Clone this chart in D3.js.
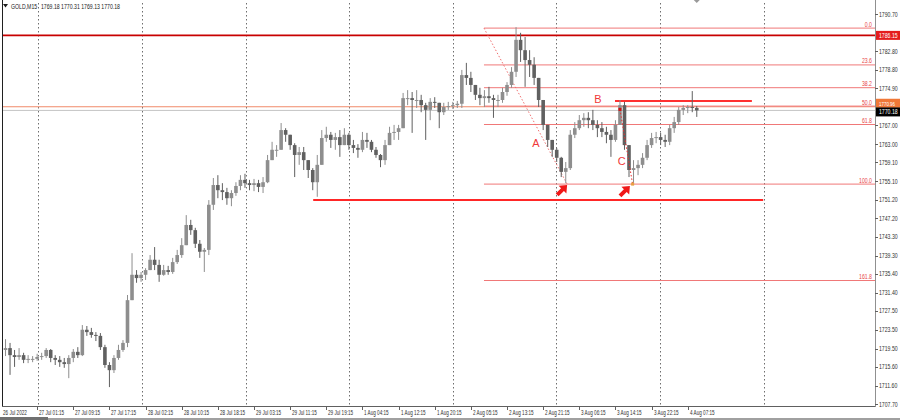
<!DOCTYPE html>
<html><head><meta charset="utf-8">
<script src="https://cdn.jsdelivr.net/npm/d3@7"></script>
<style>body{margin:0;background:#fff}svg{display:block}</style>
</head><body>
<script>
// ---------------- DATA ----------------
const symbolTitle = "GOLD,M15";
const lastQuote = "1769.18 1770.31 1769.13 1770.18";
const firstOpen = 1718.8;
const highs = [
1720.3,1721.5,1720.7,1719.2,1719.6,1718.6,1718.1,1717.9,1718.4,1718.6,
1719.6,1719.4,1718.1,1717.9,1717.5,1718.1,1719.4,1719.8,1724.5,1724.3,
1723.9,1723.0,1722.8,1720.3,1716.6,1718.1,1720.3,1721.3,1730.9,1739.8,
1736.2,1735.8,1736.6,1739.4,1741.1,1738.4,1737.3,1737.1,1738.8,1740.5,
1743.0,1747.9,1746.9,1745.2,1742.6,1740.9,1751.1,1755.8,1756.4,1754.7,
1753.7,1753.2,1754.9,1756.4,1756.7,1755.4,1755.6,1755.4,1756.0,1760.7,
1763.5,1762.8,1767.5,1766.4,1765.0,1763.2,1762.4,1762.4,1759.6,1757.9,
1760.7,1766.0,1766.7,1765.6,1765.4,1766.0,1766.4,1765.4,1763.9,1763.0,
1765.6,1765.4,1763.9,1762.4,1760.9,1763.9,1766.7,1767.1,1767.1,1773.9,
1774.5,1774.1,1774.5,1773.5,1771.8,1772.8,1773.0,1771.3,1771.8,1772.0,
1772.0,1772.2,1778.8,1780.3,1778.4,1775.6,1775.0,1774.5,1775.2,1773.5,
1773.5,1775.0,1776.2,1779.4,1787.9,1786.7,1785.8,1783.0,1781.5,1777.1,
1772.4,1767.1,1763.9,1762.2,1760.3,1759.2,1766.0,1767.7,1769.2,1769.6,
1769.8,1770.3,1768.1,1767.7,1766.7,1766.0,1768.1,1772.4,1772.0,1762.8,
1759.6,1759.6,1761.1,1763.9,1765.4,1765.6,1765.4,1765.0,1767.1,1768.8,
1770.9,1771.3,1771.3,1774.3,1771.1];
const lows = [
1717.5,1717.9,1713.9,1715.6,1717.1,1716.4,1716.4,1716.6,1716.9,1717.1,
1717.5,1716.6,1716.0,1715.6,1715.4,1713.2,1716.6,1717.5,1717.9,1722.2,
1721.8,1721.1,1719.2,1715.4,1711.3,1714.3,1717.1,1718.8,1719.8,1730.0,
1733.5,1733.7,1734.1,1736.6,1736.2,1733.7,1735.0,1735.2,1735.4,1737.5,
1738.8,1741.5,1743.7,1740.9,1738.8,1735.8,1739.4,1749.0,1751.5,1751.1,
1750.1,1749.8,1752.0,1753.2,1753.7,1753.2,1753.0,1752.8,1752.6,1754.7,
1759.6,1760.3,1761.8,1763.5,1761.8,1756.0,1758.6,1757.5,1755.8,1753.2,
1751.8,1758.6,1763.5,1762.2,1761.8,1760.3,1762.8,1761.8,1761.1,1760.1,
1761.3,1762.2,1761.3,1760.1,1758.1,1758.6,1762.8,1763.9,1763.9,1766.4,
1771.3,1765.4,1770.7,1769.8,1763.9,1768.1,1770.7,1766.4,1769.2,1770.3,
1770.5,1770.7,1770.7,1775.6,1774.1,1772.4,1771.3,1770.9,1771.8,1768.6,
1770.9,1771.8,1773.3,1775.0,1777.3,1780.5,1775.2,1777.3,1775.6,1770.9,
1766.0,1762.4,1760.3,1759.2,1756.0,1754.7,1757.5,1764.3,1766.0,1766.7,
1766.4,1766.0,1764.5,1764.5,1763.2,1760.3,1763.5,1767.1,1761.8,1756.0,
1754.3,1756.4,1757.9,1759.6,1762.2,1763.2,1762.8,1762.4,1762.8,1765.4,
1767.1,1769.2,1769.6,1769.8,1768.8];
const closes = [
1719.2,1719.6,1718.1,1717.7,1718.1,1717.1,1717.3,1717.3,1717.7,1717.9,
1719.2,1717.5,1717.1,1716.6,1716.2,1717.5,1718.8,1718.1,1723.5,1723.0,
1722.4,1722.2,1719.8,1716.0,1714.9,1717.5,1719.2,1720.7,1729.8,1735.2,
1734.5,1735.2,1736.2,1738.4,1737.3,1735.2,1736.2,1735.8,1737.9,1739.4,
1741.5,1745.8,1744.7,1741.8,1740.1,1740.5,1750.1,1754.3,1753.2,1752.8,
1751.5,1752.6,1754.1,1755.4,1754.7,1754.3,1754.7,1753.9,1754.9,1759.6,
1761.8,1761.8,1766.0,1765.0,1762.8,1760.7,1761.3,1759.6,1757.5,1754.9,
1758.6,1764.3,1765.0,1763.9,1764.5,1762.8,1765.0,1762.8,1762.2,1761.8,
1763.9,1763.5,1761.8,1760.7,1759.6,1762.8,1765.4,1765.6,1766.4,1772.8,
1772.8,1772.4,1772.4,1771.3,1770.3,1772.0,1771.8,1769.8,1770.9,1771.1,
1771.3,1771.6,1777.7,1777.1,1775.6,1773.5,1772.8,1773.2,1772.8,1772.4,
1772.4,1774.1,1775.6,1778.4,1785.2,1783.0,1780.9,1779.9,1777.1,1772.4,
1767.1,1763.9,1761.8,1760.1,1757.1,1757.9,1765.0,1766.4,1768.1,1768.6,
1768.1,1767.1,1766.4,1765.6,1765.0,1763.9,1767.1,1771.3,1762.8,1757.5,
1757.9,1758.6,1760.1,1762.8,1764.3,1764.5,1763.9,1763.5,1766.4,1767.7,
1770.3,1770.7,1770.9,1770.7,1770.18];
const timeLabels = ["26 Jul 2022","27 Jul 01:15","27 Jul 09:15","27 Jul 17:15","28 Jul 02:15",
"28 Jul 10:15","28 Jul 18:15","29 Jul 03:15","29 Jul 11:15","29 Jul 19:15","1 Aug 04:15",
"1 Aug 12:15","1 Aug 20:15","2 Aug 05:15","2 Aug 13:15","2 Aug 21:15","3 Aug 06:15",
"3 Aug 14:15","3 Aug 22:15","4 Aug 07:15"];
const barsPerLabel = 8;
const priceTicks = [1790.70,1782.80,1778.80,1774.90,1767.00,1763.00,1759.10,1755.10,1751.20,
1747.20,1743.30,1739.30,1735.40,1731.40,1727.50,1723.50,1719.50,1715.60,1711.60,1707.70];
const gridBars = [8.25,31.15,54.2,77.1,100,122.95,145.9,168.8];
const fibLevels = [0,23.6,38.2,50,61.8,100,161.8];
const fibHigh = 1787.7, fibLow = 1754.5, fibStartBar = 106.9, fibEndBar = 125.3;
const resistancePrice = 1786.15;
const bidPrice = 1770.18;
const alertPrice = 1770.96;
const bLine = {price:1772.2, from:135.9, to:166.2};
const supportLine = {price:1751.1, from:69.1, to:168.7};
const bcLine = [{bar:137.0, price:1770.4},{bar:139.8, price:1754.5}];
const waveLabels = [{t:"A",bar:118.4,price:1763.25},{t:"B",bar:132.1,price:1772.6},{t:"C",bar:137.4,price:1759.4}];
const arrowTips = [{bar:125.3,price:1754.3},{bar:139.2,price:1754.1}];

// ---------------- LAYOUT ----------------
const W=900,H=420, L=2, R=875, T=3, B=406, px=4.518;
const svg=d3.select("body").append("svg").attr("width",W).attr("height",H)
  .style("font-family","'Liberation Sans',Arial,sans-serif");
const x=d3.scaleLinear().domain([0,(R-1)/px]).range([1,R]);
const y=d3.scaleLinear().domain([1707.70,1790.70]).range([404,14]);

svg.append("defs").append("clipPath").attr("id","pc").append("rect")
  .attr("x",L).attr("y",T).attr("width",R-L).attr("height",B-T);
const g=svg.append("g").attr("clip-path","url(#pc)");

function sText(parent,tx,ty,str,sx,size,fill,anchor){
  return parent.append("text").attr("transform",`translate(${tx},${ty}) scale(${sx},1)`)
    .attr("font-size",size).attr("fill",fill).attr("text-anchor",anchor||"start").text(str);
}

// grid
g.selectAll(".vg").data(gridBars).join("line").attr("x1",d=>Math.round(x(d))+0.5).attr("x2",d=>Math.round(x(d))+0.5)
  .attr("y1",T).attr("y2",B).attr("stroke","#6e6e6e").attr("stroke-width",1).attr("stroke-dasharray","1.5,2.5");

// full-width horizontal lines
g.append("line").attr("x1",L).attr("x2",R).attr("y1",y(bidPrice)).attr("y2",y(bidPrice))
  .attr("stroke","#c4c4c4").attr("stroke-width",1);
g.append("line").attr("x1",L).attr("x2",R).attr("y1",y(alertPrice)).attr("y2",y(alertPrice))
  .attr("stroke","#f08a6a").attr("stroke-width",1);
g.append("line").attr("x1",L).attr("x2",R).attr("y1",y(resistancePrice)).attr("y2",y(resistancePrice))
  .attr("stroke","#c80000").attr("stroke-width",1.6);

// fib
const fibPrice=l=>fibHigh-(fibHigh-fibLow)*l/100;
g.selectAll(".fib").data(fibLevels).join("line").attr("x1",x(fibStartBar)).attr("x2",R)
  .attr("y1",d=>y(fibPrice(d))).attr("y2",d=>y(fibPrice(d))).attr("stroke","#f07878").attr("stroke-width",1);
g.append("line").attr("x1",x(fibStartBar)).attr("y1",y(fibHigh)).attr("x2",x(fibEndBar)).attr("y2",y(fibLow))
  .attr("stroke","#f07070").attr("stroke-width",1).attr("stroke-dasharray","1.5,2");
fibLevels.forEach(l=>{
  sText(svg,872,y(fibPrice(l))-1.5,l.toFixed(1),0.8,6.5,"#e84848","end");
});

// support & B lines
g.append("line").attr("x1",x(supportLine.from)).attr("x2",x(supportLine.to))
  .attr("y1",y(supportLine.price)).attr("y2",y(supportLine.price)).attr("stroke","#ff2626").attr("stroke-width",2);
g.append("line").attr("x1",x(bLine.from)).attr("x2",x(bLine.to))
  .attr("y1",y(bLine.price)).attr("y2",y(bLine.price)).attr("stroke","#ff3030").attr("stroke-width",2);

// candles
const bars=highs.map((h,i)=>{
  const o=i===0?firstOpen:closes[i-1], c=closes[i];
  return {i,o,c,h:Math.max(h,o,c),l:Math.min(lows[i],o,c)};
});
const col=d=>d.c>=d.o?"#8e8e8e":"#606060";
const cg=g.append("g");
cg.selectAll(".w").data(bars).join("rect").attr("x",d=>x(d.i)-0.5).attr("width",1)
  .attr("y",d=>y(d.h)).attr("height",d=>Math.max(1,y(d.l)-y(d.h))).attr("fill",col);
cg.selectAll(".b").data(bars).join("rect").attr("x",d=>x(d.i)-1.8).attr("width",3.6)
  .attr("y",d=>y(Math.max(d.o,d.c))).attr("height",d=>Math.max(1,Math.abs(y(d.o)-y(d.c))))
  .attr("fill",col);

// B-C dotted line and markers
g.append("line").attr("x1",x(bcLine[0].bar)).attr("y1",y(bcLine[0].price)).attr("x2",x(bcLine[1].bar)).attr("y2",y(bcLine[1].price))
  .attr("stroke","#e83030").attr("stroke-width",1).attr("stroke-dasharray","1.5,2");
g.append("rect").attr("x",x(bcLine[0].bar)-1.5).attr("y",y(bcLine[0].price)-1.5).attr("width",3).attr("height",3).attr("fill","#d01010");
g.append("rect").attr("x",x(bcLine[1].bar)-1.5).attr("y",y(bcLine[1].price)-1.5).attr("width",3).attr("height",3).attr("fill","#e8a040");

// wave labels
waveLabels.forEach(d=>{
  g.append("text").attr("x",x(d.bar)).attr("y",y(d.price)).attr("dy","0.35em").attr("text-anchor","middle")
    .attr("font-size",11).attr("fill","#f03838").text(d.t);
});
// arrows
arrowTips.forEach(d=>{
  g.append("path").attr("d","M0,0 L-5.5,6.5 L-2,6.5 L-2,14 L2,14 L2,6.5 L5.5,6.5 Z")
    .attr("transform",`translate(${x(d.bar)},${y(d.price)}) rotate(45)`).attr("fill","#f01818");
});

// frame
svg.append("line").attr("x1",L+0.5).attr("x2",L+0.5).attr("y1",0).attr("y2",B).attr("stroke","#202020");
svg.append("line").attr("x1",L).attr("x2",R).attr("y1",B+0.5).attr("y2",B+0.5).attr("stroke","#606060");
svg.append("line").attr("x1",R+0.5).attr("x2",R+0.5).attr("y1",0).attr("y2",B+1).attr("stroke","#909090");
svg.append("rect").attr("x",0).attr("y",418).attr("width",W).attr("height",2).attr("fill","#a0a0a0");
svg.append("rect").attr("x",0).attr("y",417).attr("width",48).attr("height",3).attr("fill","#707070");
// chart shift marker
svg.append("path").attr("d",`M${x(154)-3},0 L${x(154)+3},0 L${x(154)},3 Z`).attr("fill","#9a9a9a");

// right axis
priceTicks.forEach(p=>{
  svg.append("line").attr("x1",R).attr("x2",R+3).attr("y1",Math.round(y(p))+0.5).attr("y2",Math.round(y(p))+0.5).attr("stroke","#606060");
  sText(svg,879,y(p)+2.5,p.toFixed(2),0.74,7,"#303030");
});
function priceTag(p,bg,ty,sz){
  svg.append("rect").attr("x",R+1).attr("y",ty-4.5).attr("width",24).attr("height",9).attr("fill",bg);
  sText(svg,879,ty+2.3,p.toFixed(2),0.74,sz||7,"#ffffff");
}
priceTag(resistancePrice,"#e41c1c",y(resistancePrice));
priceTag(alertPrice,"#f07838",y(alertPrice)-3.5,6);
priceTag(bidPrice,"#000000",y(bidPrice)+1.5);

// bottom axis
timeLabels.forEach((t,k)=>{
  const xx=Math.round(x(k*barsPerLabel));
  if(k>0) svg.append("line").attr("x1",xx+0.5).attr("x2",xx+0.5).attr("y1",B).attr("y2",B+4).attr("stroke","#606060");
  sText(svg,k===0?3:xx+2,415,t,0.66,7,"#303030");
});

// header
svg.append("path").attr("d","M3,4 L8,4 L5.5,7.5 Z").attr("fill","#202020");
sText(svg,11,9,symbolTitle,0.74,7,"#202020");
sText(svg,41,9,lastQuote,0.74,7,"#202020");
</script>
</body></html>
